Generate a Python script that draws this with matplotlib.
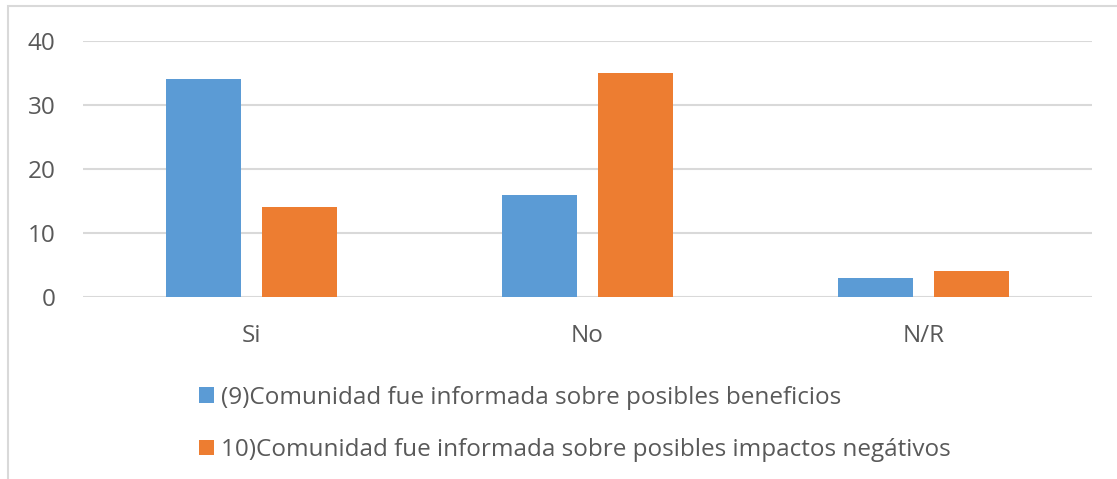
import numpy as np
import matplotlib
matplotlib.use("Agg")
import matplotlib.pyplot as plt
from matplotlib.patches import Rectangle

categories = ["Si", "No", "N/R"]
beneficios = [34, 16, 3]
impactos = [14, 35, 4]
labels = [
    "(9)Comunidad fue informada sobre posibles beneficios",
    "10)Comunidad fue informada sobre posibles impactos negátivos",
]
yticks = [0, 10, 20, 30, 40]

BLUE = "#5b9bd5"
ORANGE = "#ed7d31"
TEXT = "#595959"
GRID = "#d9d9d9"

plt.rcParams["font.family"] = ["Open Sans", "DejaVu Sans"]

W, H = 1117, 479
fig = plt.figure(figsize=(W / 100, H / 100), dpi=100)
ax = fig.add_axes([83 / W, 1 - 297 / H, (1092 - 83) / W, (297 - 41) / H])

x = np.arange(len(categories))
bw = 0.2225
off = 0.1425
ax.bar(x - off, beneficios, bw, color=BLUE, label=labels[0], zorder=3)
ax.bar(x + off, impactos, bw, color=ORANGE, label=labels[1], zorder=3)

ax.set_xlim(-0.5, len(categories) - 0.5)
ax.set_ylim(0, 40)
ax.set_yticks(yticks)
ax.set_xticks(x)
ax.set_xticklabels(categories)
ax.tick_params(axis="both", length=0, labelsize=17.5, colors=TEXT)
ax.tick_params(axis="y", pad=20)
ax.tick_params(axis="x", pad=19.5)
ax.grid(axis="y", color=GRID, linewidth=1.5, zorder=0)
for s in ax.spines.values():
    s.set_visible(False)

leg = fig.legend(
    loc="upper left",
    bbox_to_anchor=(189 / W, 1 - 376 / H),
    frameon=False,
    fontsize=17.5,
    handlelength=0.62,
    handleheight=0.62,
    handletextpad=0.3,
    labelspacing=1.17,
    borderaxespad=0,
)
for t in leg.get_texts():
    t.set_color(TEXT)

# outer chart frame (left and top edges visible in the crop)
fig.patches.append(Rectangle((8 / W, -0.1), 1.2, 1.1 - 6 / H, transform=fig.transFigure,
                             fill=False, edgecolor="#d9d9d9", linewidth=1.5))

fig.savefig("out.png", dpi=100)
